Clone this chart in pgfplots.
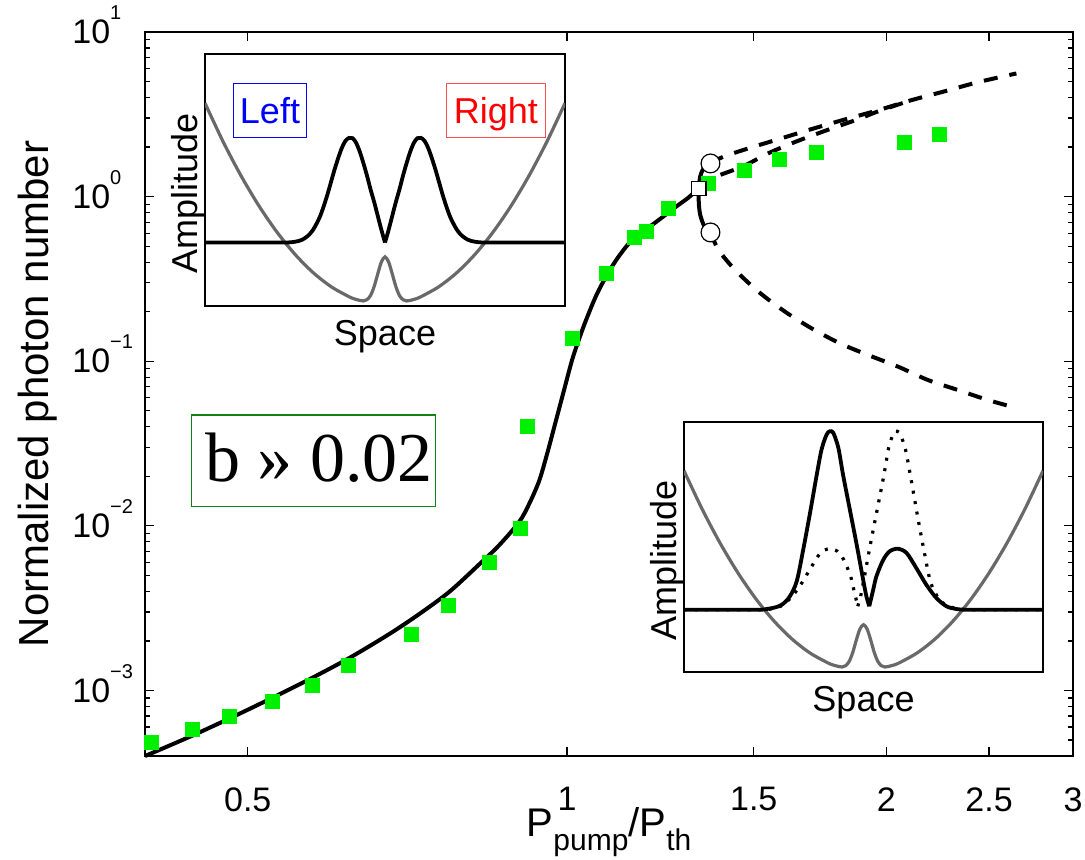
\documentclass[border=0pt]{standalone}
\usepackage{pgfplots}
\pgfplotsset{compat=1.18}
\usepackage{fontspec}
\setmainfont{Liberation Sans}
\newfontfamily\serif{Liberation Serif}
\definecolor{sqgreen}{RGB}{0,240,0}
\definecolor{boxgreen}{RGB}{20,130,20}
\definecolor{potgray}{RGB}{105,105,105}
\definecolor{lblue}{RGB}{0,0,255}
\definecolor{lred}{RGB}{255,0,0}
\newcommand{\tf}{\fontsize{17}{20}\selectfont}
\newcommand{\ex}[1]{10\raisebox{12pt}[0pt][0pt]{\fontsize{10}{10}\selectfont #1}}
\newcommand{\lf}{\fontsize{18}{20}\selectfont}

\begin{document}
\begin{tikzpicture}[x=1pt,y=1pt]
\path[use as bounding box] (0,0) rectangle (542.5,429.5);
\begin{axis}[
  at={(72.5pt,51.5pt)}, anchor=south west,
  scale only axis, width=464pt, height=362pt,
  xmode=log, ymode=log,
  xmin=0.4, xmax=3, ymin=4e-4, ymax=10,
  xtick={0.5,1,1.5,2,2.5,3},
  xticklabels={0.5,1,1.5,2,2.5,3},
  minor xtick={},
  ytick={1e-3,1e-2,1e-1,1,10},
  yticklabels={\ex{−3},\ex{−2},\ex{−1},\ex{0},\ex{1}},
  minor ytick={5e-4,6e-4,7e-4,8e-4,9e-4,2e-3,3e-3,4e-3,5e-3,6e-3,7e-3,8e-3,9e-3,2e-2,3e-2,4e-2,5e-2,6e-2,7e-2,8e-2,9e-2,0.2,0.3,0.4,0.5,0.6,0.7,0.8,0.9,2,3,4,5,6,7,8,9},
  tick align=inside,
  major tick length=4.5pt, minor tick length=2.5pt,
  tick style={black, line width=0.6pt},
  ticklabel style={font=\tf},
  xticklabel style={inner sep=0pt, anchor=north, yshift=-15.5pt},
  yticklabel style={inner sep=0pt, anchor=west, xshift=-36.5pt},
  axis line style={line width=0.75pt},
  clip=false,
]
% main solid branch
\addplot[black, line width=2pt, smooth] coordinates {
(0.4,4.0e-4) (0.4410,5.242e-4) (0.4809,6.78e-4) (0.5245,8.87e-4) (0.5721,1.173e-3)
(0.6237,1.579e-3) (0.6803,2.209e-3) (0.7256,2.914e-3) (0.7745,3.974e-3) (0.8264,5.835e-3)
(0.8630,7.63e-3) (0.9013,1.056e-2) (0.9210,1.358e-2) (0.9412,1.873e-2) (0.9576,2.732e-2)
(0.9765,4.384e-2) (0.9935,6.667e-2) (1.0109,0.1014) (1.0263,0.1360) (1.0420,0.1774)
(1.0648,0.2487) (1.0882,0.3258) (1.1143,0.4175) (1.1437,0.5197) (1.1713,0.6004)
(1.2020,0.6714) (1.2339,0.7614) (1.2665,0.8671) (1.2998,0.9793) (1.3313,1.1215)};
% fold (stable asymmetric part)
\addplot[black, line width=2pt, smooth] coordinates {
(1.3655,0.606) (1.3473,0.662) (1.3357,0.772) (1.3313,0.913) (1.3313,1.121)
(1.3357,1.332) (1.3458,1.490) (1.3655,1.591)};
% upper dashed
\addplot[black, line width=2pt, smooth, dash pattern=on 7pt off 6pt] coordinates {
(1.3655,1.591) (1.405,1.750) (1.490,1.984) (1.589,2.250) (1.700,2.570) (1.818,2.913)
(1.966,3.352) (2.112,3.854) (2.273,4.372) (2.441,4.958) (2.653,5.60)};
% symmetric dashed
\addplot[black, line width=2pt, smooth, dash pattern=on 7pt off 6pt] coordinates {
(1.3313,1.121) (1.369,1.290) (1.467,1.532) (1.549,1.837) (1.653,2.188) (1.764,2.552)
(1.882,2.955) (1.966,3.30) (2.112,3.854)};
% lower dashed
\addplot[black, line width=2pt, smooth, dash pattern=on 7pt off 6pt] coordinates {
(1.3655,0.606) (1.390,0.473) (1.441,0.358) (1.516,0.264) (1.606,0.1998) (1.701,0.1584)
(1.809,0.1284) (1.923,0.1091) (2.053,0.0926) (2.190,0.0769) (2.338,0.0668)
(2.495,0.0581) (2.660,0.0518)};
% experimental data
\addplot[only marks, mark=square*, mark size=3.5pt, mark options={fill=sqgreen, draw=sqgreen}] coordinates {
(0.406,4.83e-4) (0.443,5.77e-4) (0.480,7.01e-4) (0.528,8.57e-4) (0.575,1.077e-3)
(0.622,1.425e-3) (0.713,2.20e-3) (0.773,3.31e-3) (0.845,5.96e-3) (0.903,9.71e-3)
(0.917,0.040) (1.011,0.138) (1.090,0.343) (1.157,0.566) (1.189,0.611) (1.247,0.843)
(1.358,1.20) (1.469,1.443) (1.585,1.683) (1.720,1.845) (2.079,2.143) (2.245,2.396)};
% bifurcation markers
\addplot[only marks, mark=*, mark size=4.7pt, mark options={fill=white, draw=black, line width=0.6pt}] coordinates {
(1.3655,0.606) (1.3655,1.591)};
\addplot[only marks, mark=square*, mark size=3.6pt, mark options={fill=white, draw=black, line width=0.6pt}] coordinates {
(1.3313,1.121)};
\end{axis}

% inset 1
\begin{axis}[
  at={(102.5pt,276.5pt)}, anchor=south west,
  scale only axis, width=180pt, height=126pt,
  xmin=0, xmax=1, ymin=0, ymax=1,
  ticks=none,
  axis background/.style={fill=white},
  axis line style={line width=0.75pt},
  xlabel={Space}, ylabel={Amplitude},
  label style={font=\lf, inner sep=0pt},
  xlabel style={at={(axis description cs:0.5,0)}, anchor=north, yshift=-7pt},
  ylabel style={at={(axis description cs:0,0.5)}, anchor=south, rotate=0, xshift=-6.5pt},
]
\addplot[potgray, line width=1.6pt, smooth] coordinates {
(0,0.805) (0.05,0.653) (0.1,0.517) (0.15,0.397) (0.2,0.293) (0.25,0.205) (0.3,0.133)
(0.35,0.077) (0.4,0.037) (0.42,0.026) (0.44,0.020) (0.45,0.025) (0.46,0.042) (0.47,0.078)
(0.48,0.128) (0.49,0.175) (0.5,0.195) (0.51,0.175) (0.52,0.128) (0.53,0.078) (0.54,0.042)
(0.55,0.025) (0.56,0.020) (0.58,0.026) (0.6,0.037) (0.65,0.077) (0.7,0.133) (0.75,0.205)
(0.8,0.293) (0.85,0.397) (0.9,0.517) (0.95,0.653) (1,0.805)};
\addplot[black, line width=1.9pt, smooth] coordinates {
(0,0.252) (0.2,0.252) (0.23,0.252) (0.25,0.255) (0.26,0.258) (0.27,0.263) (0.28,0.272)
(0.29,0.284) (0.3,0.302) (0.31,0.327) (0.32,0.357) (0.33,0.397) (0.34,0.442) (0.35,0.492)
(0.36,0.542) (0.37,0.587) (0.38,0.627) (0.39,0.655) (0.4,0.667) (0.41,0.666) (0.42,0.647)
(0.43,0.612) (0.44,0.567) (0.45,0.517) (0.46,0.462) (0.47,0.412) (0.48,0.357) (0.49,0.302)
(0.5,0.252)};
\addplot[black, line width=1.9pt, smooth] coordinates {
(0.5,0.252) (0.51,0.302) (0.52,0.357) (0.53,0.412) (0.54,0.462) (0.55,0.517) (0.56,0.567)
(0.57,0.612) (0.58,0.647) (0.59,0.666) (0.6,0.667) (0.61,0.655) (0.62,0.627) (0.63,0.587)
(0.64,0.542) (0.65,0.492) (0.66,0.442) (0.67,0.397) (0.68,0.357) (0.69,0.327) (0.7,0.302)
(0.71,0.284) (0.72,0.272) (0.73,0.263) (0.74,0.258) (0.75,0.255) (0.77,0.252) (0.8,0.252)
(1,0.252)};
\end{axis}

% inset 2
\begin{axis}[
  at={(342pt,93.5pt)}, anchor=south west,
  scale only axis, width=179.5pt, height=125pt,
  xmin=0, xmax=1, ymin=0, ymax=1,
  ticks=none,
  axis background/.style={fill=white},
  axis line style={line width=0.75pt},
  xlabel={Space}, ylabel={Amplitude},
  label style={font=\lf, inner sep=0pt},
  xlabel style={at={(axis description cs:0.5,0)}, anchor=north, yshift=-7pt},
  ylabel style={at={(axis description cs:0,0.5)}, anchor=south, rotate=0, xshift=-6.5pt},
]
\addplot[potgray, line width=1.6pt, smooth] coordinates {
(0,0.805) (0.05,0.653) (0.1,0.517) (0.15,0.397) (0.2,0.293) (0.25,0.205) (0.3,0.133)
(0.35,0.077) (0.4,0.037) (0.42,0.026) (0.44,0.020) (0.45,0.025) (0.46,0.042) (0.47,0.078)
(0.48,0.128) (0.49,0.172) (0.5,0.189) (0.51,0.172) (0.52,0.128) (0.53,0.078) (0.54,0.042)
(0.55,0.025) (0.56,0.020) (0.58,0.026) (0.6,0.037) (0.65,0.077) (0.7,0.133) (0.75,0.205)
(0.8,0.293) (0.85,0.397) (0.9,0.517) (0.95,0.653) (1,0.805)};
% dotted (mirror state)
\addplot[black, line width=1.6pt, smooth, dash pattern=on 1.5pt off 3.8pt] coordinates {
(0,0.249) (0.2,0.249) (0.241,0.252) (0.269,0.263) (0.297,0.296) (0.325,0.349) (0.353,0.416)
(0.38,0.476) (0.404,0.493) (0.427,0.483) (0.445,0.449) (0.464,0.383) (0.473,0.329) (0.484,0.263)};
\addplot[black, line width=1.6pt, smooth, dash pattern=on 1.5pt off 3.8pt] coordinates {
(0.484,0.263) (0.492,0.303) (0.501,0.369) (0.519,0.509) (0.538,0.649) (0.557,0.789)
(0.57,0.896) (0.584,0.956) (0.594,0.963) (0.603,0.949) (0.617,0.889) (0.631,0.783)
(0.649,0.636) (0.668,0.489) (0.686,0.363) (0.705,0.303) (0.724,0.273) (0.742,0.260)
(0.77,0.252) (0.8,0.249) (1,0.249)};
% solid state
\addplot[black, line width=1.9pt, smooth] coordinates {
(0,0.249) (0.2,0.249) (0.23,0.252) (0.258,0.260) (0.276,0.273) (0.295,0.303) (0.314,0.363)
(0.332,0.489) (0.351,0.636) (0.369,0.783) (0.383,0.889) (0.397,0.949) (0.406,0.963)
(0.416,0.956) (0.43,0.896) (0.443,0.789) (0.462,0.649) (0.481,0.509) (0.499,0.369)
(0.508,0.303) (0.516,0.263)};
\addplot[black, line width=1.9pt, smooth] coordinates {
(0.516,0.263) (0.527,0.329) (0.536,0.383) (0.555,0.449) (0.573,0.483) (0.596,0.493)
(0.62,0.476) (0.647,0.416) (0.675,0.349) (0.703,0.296) (0.731,0.263) (0.759,0.252)
(0.8,0.249) (1,0.249)};
\end{axis}

% annotations
\draw[lblue, line width=0.5pt] (116.65,360.65) rectangle (153.35,387.85);
\node[lblue, font=\lf, anchor=base, inner sep=0pt] at (135,367.85) {Left};
\draw[lred!70, line width=0.5pt] (223.35,360.65) rectangle (272.5,387.85);
\node[lred, font=\lf, anchor=base, inner sep=0pt] at (247.9,367.85) {Right};

\draw[boxgreen, line width=0.75pt] (95.85,176.15) rectangle (217.85,222);
\node[anchor=base west, inner sep=0pt, font=\serif\fontsize{35}{36}\selectfont] at (102.5,189) {b » 0.02};

\node[rotate=90, font=\fontsize{21}{24}\selectfont, inner sep=0pt] at (19,232.5) {Normalized photon number};
\node[anchor=base, inner sep=0pt, font=\fontsize{20}{24}\selectfont] at (304.5,11.5)
  {P\raisebox{-7pt}{\fontsize{15}{16}\selectfont pump}/P\raisebox{-7pt}{\fontsize{15}{16}\selectfont th}};
\end{tikzpicture}
\end{document}
